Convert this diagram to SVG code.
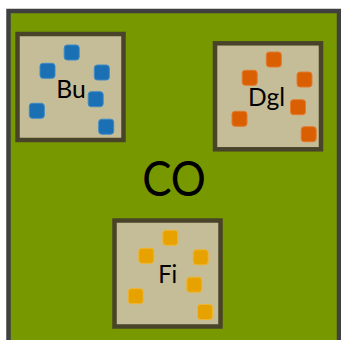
<svg xmlns="http://www.w3.org/2000/svg" width="341" height="340" viewBox="0 0 341 340">
<style>
.outer{fill:#789800;stroke:#404040;stroke-width:4.5}
.box{fill:#c4bd97;stroke:#494429;stroke-width:4.5}
.sq{stroke-width:1}
.blue{fill:#1b6fb3;stroke:#3d8bc9}
.orange{fill:#d95f02;stroke:#e57a2c}
.gold{fill:#e8a200;stroke:#efb632}
text{font-family:Lato,"Open Sans",sans-serif;fill:#000;text-anchor:middle}
.lbl{font-size:25.5px}
.big{font-size:49px}
</style>
<rect width="341" height="340" fill="#ffffff"/>
<g id="CO">
<rect class="outer" x="8.5" y="11" width="330.5" height="340"/>
<text class="big" x="174" y="195.5" textLength="63.7" lengthAdjust="spacingAndGlyphs">CO</text>
</g>
<g id="Bu">
<rect class="box" x="17.5" y="34" width="106" height="106"/>
<g class="sq blue">
<rect x="64.2" y="45" width="15" height="15" rx="3"/>
<rect x="40" y="63.3" width="15" height="15" rx="3"/>
<rect x="94.3" y="65" width="15" height="15" rx="3"/>
<rect x="88.2" y="91.7" width="15" height="15" rx="3"/>
<rect x="29.3" y="103.3" width="15" height="15" rx="3"/>
<rect x="98.7" y="119.2" width="15" height="15" rx="3"/>
</g>
<text class="lbl" x="71" y="98" textLength="29.5" lengthAdjust="spacingAndGlyphs">Bu</text>
</g>
<g id="Dgl">
<rect class="box" x="215" y="43.3" width="106" height="106"/>
<g class="sq orange">
<rect x="266.3" y="52" width="15" height="15" rx="3"/>
<rect x="242.2" y="70.3" width="15" height="15" rx="3"/>
<rect x="297" y="72" width="15" height="15" rx="3"/>
<rect x="290.5" y="99.7" width="15" height="15" rx="3"/>
<rect x="232" y="111.3" width="15" height="15" rx="3"/>
<rect x="301.2" y="126.7" width="15" height="15" rx="3"/>
</g>
<text class="lbl" x="266.5" y="106.3" textLength="37" lengthAdjust="spacingAndGlyphs">Dgl</text>
</g>
<g id="Fi">
<rect class="box" x="114.5" y="220.5" width="106" height="106"/>
<g class="sq gold">
<rect x="162.8" y="230.3" width="15" height="15" rx="3"/>
<rect x="138.8" y="248.3" width="15" height="15" rx="3"/>
<rect x="193.2" y="249.8" width="15" height="15" rx="3"/>
<rect x="186.8" y="277.2" width="15" height="15" rx="3"/>
<rect x="128.2" y="288.7" width="15" height="15" rx="3"/>
<rect x="197.5" y="304.5" width="15" height="15" rx="3"/>
</g>
<text class="lbl" x="167.7" y="283.3" textLength="19" lengthAdjust="spacingAndGlyphs">Fi</text>
</g>
<g id="connectors"/>
</svg>
